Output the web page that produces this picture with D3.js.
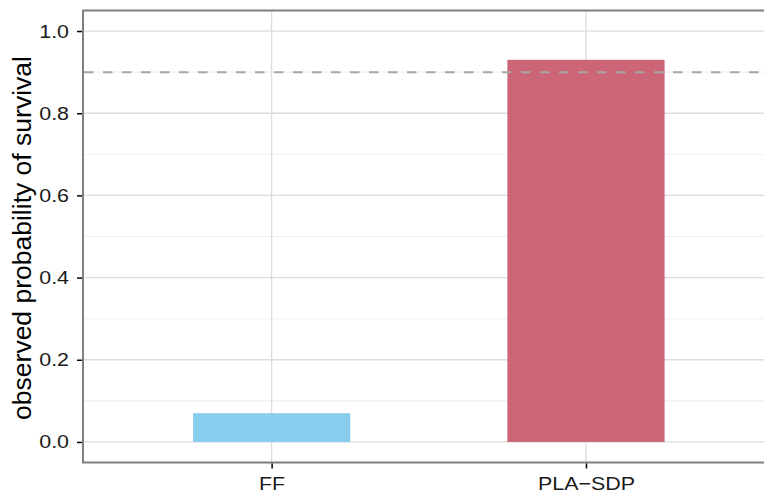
<!DOCTYPE html>
<html>
<head>
<meta charset="utf-8">
<script src="https://cdn.jsdelivr.net/npm/d3@7"></script>
<style>
  html, body { margin: 0; padding: 0; background: #fff; }
  svg { display: block; }
  text { font-family: "Liberation Sans", Arial, Helvetica, sans-serif; }
</style>
</head>
<body>
<svg id="chart" width="764" height="494"></svg>
<script>
// ---- data ----
const categories = ["FF", "PLA\u2212SDP"];
const survival = [0.07, 0.93];
const barColors = ["#88CCEE", "#CC6677"];
const yTicks = [0.0, 0.2, 0.4, 0.6, 0.8, 1.0];
const yMinorTicks = [0.1, 0.3, 0.5, 0.7, 0.9];
const referenceLine = 0.9;
const yTitle = "observed probability of survival";

// ---- layout ----
const svg = d3.select("#chart");
const panel = { left: 83, right: 774.6, top: 10.5, bottom: 462.5 };
const tickFont = 18.8;
const stretch = 1.14;

const x = d3.scalePoint().domain(categories)
  .range([panel.left, panel.right]).padding(0.6);
const step = x.step();
const barWidth = step * 0.5;

const y = d3.scaleLinear().domain([-0.05, 1.05])
  .range([panel.bottom, panel.top]);

const g = svg.append("g");

// minor grid
g.selectAll("line.minor").data(yMinorTicks).join("line")
  .attr("x1", panel.left).attr("x2", panel.right)
  .attr("y1", d => y(d)).attr("y2", d => y(d))
  .attr("stroke", "#f0f0f0").attr("stroke-width", 1.1);

// major grid
g.selectAll("line.major").data(yTicks).join("line")
  .attr("x1", panel.left).attr("x2", panel.right)
  .attr("y1", d => y(d)).attr("y2", d => y(d))
  .attr("stroke", "#dcdcdc").attr("stroke-width", 1.3);

g.selectAll("line.vmajor").data(categories).join("line")
  .attr("x1", d => x(d)).attr("x2", d => x(d))
  .attr("y1", panel.top).attr("y2", panel.bottom)
  .attr("stroke", "#dcdcdc").attr("stroke-width", 1.3);

// bars
g.selectAll("rect.bar").data(categories).join("rect")
  .attr("x", d => x(d) - barWidth / 2)
  .attr("width", barWidth)
  .attr("y", (d, i) => y(survival[i]))
  .attr("height", (d, i) => y(0) - y(survival[i]))
  .attr("fill", (d, i) => barColors[i]);

// reference dashed line
g.append("line")
  .attr("x1", panel.left).attr("x2", panel.right)
  .attr("y1", y(referenceLine)).attr("y2", y(referenceLine))
  .attr("stroke", "#a6a6a6").attr("stroke-width", 2)
  .attr("stroke-dasharray", "9.5,9.5")
  .attr("stroke-dashoffset", -1);

// panel border
g.append("rect")
  .attr("x", panel.left).attr("y", panel.top)
  .attr("width", panel.right - panel.left)
  .attr("height", panel.bottom - panel.top)
  .attr("fill", "none").attr("stroke", "#7f7f7f").attr("stroke-width", 2);

// y axis
const yAxis = d3.axisLeft(y).tickValues(yTicks).tickFormat(d3.format(".1f"))
  .tickSizeInner(5).tickSizeOuter(0).tickPadding(9);
const ya = svg.append("g").attr("transform", `translate(${panel.left - 1},0)`).call(yAxis);
ya.select(".domain").remove();
ya.selectAll(".tick line").attr("stroke", "#000").attr("stroke-width", 1.5);
ya.selectAll(".tick text").attr("fill", "#1a1a1a").style("font-size", tickFont + "px")
  .attr("x", -13 / stretch)
  .attr("transform", `scale(${stretch},1)`);

// x axis
const xAxis = d3.axisBottom(x).tickSizeInner(5).tickSizeOuter(0).tickPadding(8);
const xa = svg.append("g").attr("transform", `translate(0,${panel.bottom + 1})`).call(xAxis);
xa.select(".domain").remove();
xa.selectAll(".tick line").attr("stroke", "#000").attr("stroke-width", 1.5);
xa.selectAll(".tick text").attr("fill", "#1a1a1a").style("font-size", tickFont + "px")
  .attr("transform", `scale(${stretch},1)`);

// y title
svg.append("text")
  .attr("transform", `translate(31,238) rotate(-90)`)
  .attr("text-anchor", "middle")
  .attr("fill", "#000")
  .style("font-size", "26.5px")
  .text(yTitle);
</script>
</body>
</html>
